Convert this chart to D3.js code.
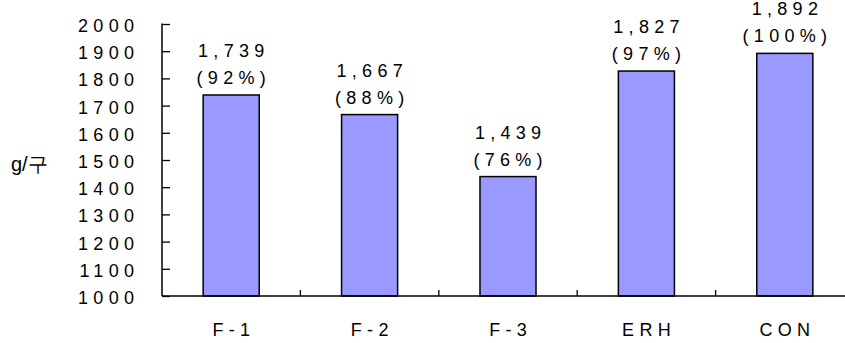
<!DOCTYPE html>
<html>
<head>
<meta charset="utf-8">
<script src="https://cdn.jsdelivr.net/npm/d3@7"></script>
<style>
  html, body { margin: 0; padding: 0; background: #fff; }
  svg text { font-family: "Liberation Sans", Arial, sans-serif; fill: #000; }
</style>
</head>
<body>
<svg id="chart" width="845" height="343"></svg>
<script>
// Yield per plot for each treatment
const categories = ["F-1", "F-2", "F-3", "ERH", "CON"];
const values = [1739, 1667, 1439, 1827, 1892];
const percents = ["92%", "88%", "76%", "97%", "100%"];
const yTicks = [1000, 1100, 1200, 1300, 1400, 1500, 1600, 1700, 1800, 1900, 2000];
const yTitle = "g/구";

const svg = d3.select("#chart");
const plotLeft = 162, plotRight = 854, plotTop = 24, plotBottom = 296;
const fontSize = 18, spacing = 5.3;

const x = d3.scaleBand().domain(categories).range([plotLeft, plotRight]).padding(0);
const y = d3.scaleLinear().domain([1000, 2000]).range([plotBottom, plotTop]);
const barW = x.bandwidth() * 0.405;

// bars
svg.append("g").selectAll("rect")
  .data(categories)
  .join("rect")
  .attr("x", (d) => x(d) + (x.bandwidth() - barW) / 2)
  .attr("y", (d, i) => y(values[i]))
  .attr("width", barW)
  .attr("height", (d, i) => y(1000) - y(values[i]))
  .attr("fill", "#9999ff")
  .attr("stroke", "#000")
  .attr("stroke-width", 1.5);

// y axis
const yAxis = d3.axisRight(y).tickValues(yTicks).tickSize(8).tickFormat("");
const gy = svg.append("g").attr("transform", `translate(${plotLeft},0)`).call(yAxis);
gy.select(".domain").remove();
gy.selectAll(".tick line").attr("stroke", "#000").attr("stroke-width", 1.3);
svg.append("line")
  .attr("x1", plotLeft).attr("x2", plotLeft)
  .attr("y1", y(2000) - 0.5).attr("y2", y(1000))
  .attr("stroke", "#000").attr("stroke-width", 1.5);

svg.append("g").selectAll("text")
  .data(yTicks)
  .join("text")
  .attr("x", 134 + spacing)
  .attr("y", (d) => y(d) + 8)
  .attr("text-anchor", "end")
  .attr("font-size", fontSize)
  .attr("letter-spacing", spacing + "px")
  .text((d) => d);

// x axis baseline with category separators
svg.append("line")
  .attr("x1", plotLeft).attr("x2", 845)
  .attr("y1", y(1000)).attr("y2", y(1000))
  .attr("stroke", "#000").attr("stroke-width", 1.5);
const seps = categories.slice(1);
svg.append("g").selectAll("line")
  .data(seps)
  .join("line")
  .attr("x1", (d) => x(d)).attr("x2", (d) => x(d))
  .attr("y1", y(1000)).attr("y2", y(1000) - 6)
  .attr("stroke", "#000").attr("stroke-width", 1.3);

svg.append("g").selectAll("text")
  .data(categories)
  .join("text")
  .attr("x", (d) => x(d) + x.bandwidth() / 2 + spacing / 2)
  .attr("y", 336)
  .attr("text-anchor", "middle")
  .attr("font-size", fontSize)
  .attr("letter-spacing", spacing + "px")
  .text((d) => d);

// value labels
const fmt = d3.format(",");
const lbl = svg.append("g").selectAll("g")
  .data(categories)
  .join("g");
lbl.append("text")
  .attr("x", (d) => x(d) + x.bandwidth() / 2 + spacing / 2)
  .attr("y", (d, i) => y(values[i]) - 38)
  .attr("text-anchor", "middle")
  .attr("font-size", fontSize)
  .attr("letter-spacing", spacing + "px")
  .text((d, i) => fmt(values[i]));
lbl.append("text")
  .attr("x", (d) => x(d) + x.bandwidth() / 2 + spacing / 2)
  .attr("y", (d, i) => y(values[i]) - 11)
  .attr("text-anchor", "middle")
  .attr("font-size", fontSize)
  .attr("letter-spacing", spacing + "px")
  .text((d, i) => "(" + percents[i] + ")");

// y axis title
svg.append("text")
  .attr("x", 11)
  .attr("y", 171)
  .attr("font-size", 20)
  .attr("font-family", "'Noto Sans CJK KR', sans-serif")
  .text(yTitle);
</script>
</body>
</html>
